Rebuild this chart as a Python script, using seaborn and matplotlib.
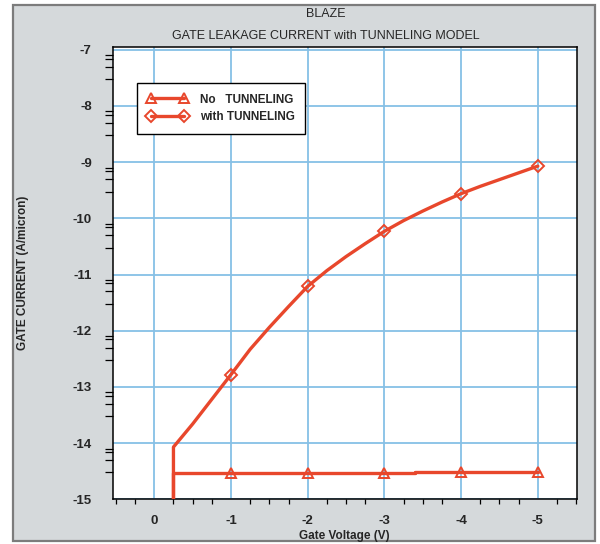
import numpy as np
import pandas as pd
import matplotlib
matplotlib.use("Agg")
import matplotlib.pyplot as plt
from matplotlib.lines import Line2D
from matplotlib.patches import Rectangle
from matplotlib.ticker import FixedLocator
import seaborn as sns

# Gate voltage sweep (V) and log10 of gate current (A/micron)
vg_no_tunnel = [-0.25, -0.25, -1.0, -2.0, -3.0, -3.4, -3.4, -4.0, -5.0]
ig_no_tunnel = [-15.0, -14.54, -14.54, -14.54, -14.54, -14.54, -14.52, -14.52, -14.52]

vg_tunnel = [-0.25, -0.25, -0.5, -0.75, -1.0, -1.25, -1.5, -1.75, -2.0,
             -2.25, -2.5, -2.75, -3.0, -3.25, -3.5, -3.75, -4.0,
             -4.25, -4.5, -4.75, -5.0]
ig_tunnel = [-15.0, -14.07, -13.66, -13.22, -12.78, -12.33, -11.94, -11.57, -11.21,
             -10.93, -10.68, -10.45, -10.23, -10.04, -9.87, -9.71, -9.56,
             -9.43, -9.31, -9.19, -9.07]

marker_voltages = [-1.0, -2.0, -3.0, -4.0, -5.0]
x_ticks = [0, -1, -2, -3, -4, -5]
y_ticks = [-7, -8, -9, -10, -11, -12, -13, -14, -15]
series_labels = ["No   TUNNELING", "with TUNNELING"]

sns.set_theme(style="white")
plt.rcParams["font.family"] = ["Liberation Sans", "DejaVu Sans"]
plt.rcParams["axes.unicode_minus"] = False

RED = "#e8472c"
GRID = "#86c0e6"
PANEL = "#d5d9db"

fig = plt.figure(figsize=(6.0, 5.44), dpi=100, facecolor="white")

# grey panel with dark frame behind everything
fig.patches.append(Rectangle((13 / 600, 3 / 544), 582 / 600, 536 / 544,
                             transform=fig.transFigure, facecolor=PANEL,
                             edgecolor="#7c7c7c", linewidth=1.6, zorder=-10))

ax = fig.add_axes([112.7 / 600, (544 - 499.3) / 544, 464 / 600, (499.3 - 47) / 544])
ax.set_facecolor("white")

df_no = pd.DataFrame({"vg": vg_no_tunnel, "ig": ig_no_tunnel})
df_tn = pd.DataFrame({"vg": vg_tunnel, "ig": ig_tunnel})

mark_no = [i for i, v in enumerate(vg_no_tunnel) if v in marker_voltages]
mark_tn = [i for i, v in enumerate(vg_tunnel) if v in marker_voltages]

sns.lineplot(data=df_no, x="vg", y="ig", ax=ax, sort=False, estimator=None,
             color=RED, linewidth=2.4, marker="^", markersize=7,
             markerfacecolor="none", markeredgecolor=RED, markeredgewidth=1.4,
             markevery=mark_no, zorder=3)
sns.lineplot(data=df_tn, x="vg", y="ig", ax=ax, sort=False, estimator=None,
             color=RED, linewidth=2.4, marker="D", markersize=6,
             markerfacecolor="none", markeredgecolor=RED, markeredgewidth=1.4,
             markevery=mark_tn, zorder=3)

ax.set_xlim(0.542, -5.507)
ax.set_ylim(-15, -6.95)

ax.set_xticks(x_ticks)
ax.set_xticklabels([f"{t:d}" for t in x_ticks])
ax.xaxis.set_minor_locator(FixedLocator(np.arange(0.5, -5.51, -0.25)))
ax.set_yticks(y_ticks)
ax.set_yticklabels([f"{t:d}" for t in y_ticks])
y_minor = [d + np.log10(k) for d in range(-15, -7) for k in (3, 5, 7, 8)]
ax.yaxis.set_minor_locator(FixedLocator(y_minor))

ax.grid(True, which="major", color=GRID, linewidth=1.3, zorder=0)
ax.set_axisbelow(True)

for s in ax.spines.values():
    s.set_color("black")
    s.set_linewidth(1.1)
    s.set_visible(True)

ax.tick_params(axis="y", which="major", direction="out", length=11, width=1.6,
               color="black", pad=4, labelsize=9.5)
ax.tick_params(axis="y", which="minor", direction="out", length=5.5, width=0.9,
               color="black", left=True)
ax.tick_params(axis="x", which="major", direction="out", length=6, width=1.5,
               color="black", pad=5, labelsize=9.5)
ax.tick_params(axis="x", which="minor", direction="out", length=3.8, width=0.9,
               color="black", bottom=True)
for lab in ax.get_xticklabels() + ax.get_yticklabels():
    lab.set_fontweight("bold")

ax.set_xlabel("Gate Voltage (V)", fontsize=8.5, fontweight="bold")
ax.xaxis.set_label_coords(0.5, (499.3 - 536) / 452.3)
ax.xaxis.label.set_verticalalignment("center")
ax.set_ylabel("GATE CURRENT (A/micron)", fontsize=8.5, fontweight="bold")
ax.yaxis.set_label_coords((23 - 112.7) / 464, 0.5)
ax.yaxis.label.set_verticalalignment("center")

fig.text(326 / 600, 1 - 14 / 544, "BLAZE", ha="center", va="center", fontsize=9)
fig.text(326 / 600, 1 - 36 / 544, "GATE LEAKAGE CURRENT with TUNNELING MODEL",
         ha="center", va="center", fontsize=9)

handles = [
    Line2D([], [], color=RED, linewidth=2.4, marker="^", markersize=7,
           markerfacecolor="none", markeredgecolor=RED, markeredgewidth=1.4),
    Line2D([], [], color=RED, linewidth=2.4, marker="D", markersize=6,
           markerfacecolor="none", markeredgecolor=RED, markeredgewidth=1.4),
]
leg = ax.legend(handles, series_labels, loc="upper left",
                bbox_to_anchor=((137 - 112.7) / 464, 1 - (83 - 47) / 452.3),
                borderaxespad=0, numpoints=2, handlelength=3.4, handletextpad=1.0,
                frameon=True, fancybox=False, edgecolor="black", facecolor="white",
                framealpha=1, prop={"weight": "bold", "size": 8.5},
                borderpad=0.9, labelspacing=0.45)
leg.get_frame().set_linewidth(1.0)

fig.savefig("out.png", dpi=100, facecolor=fig.get_facecolor())
